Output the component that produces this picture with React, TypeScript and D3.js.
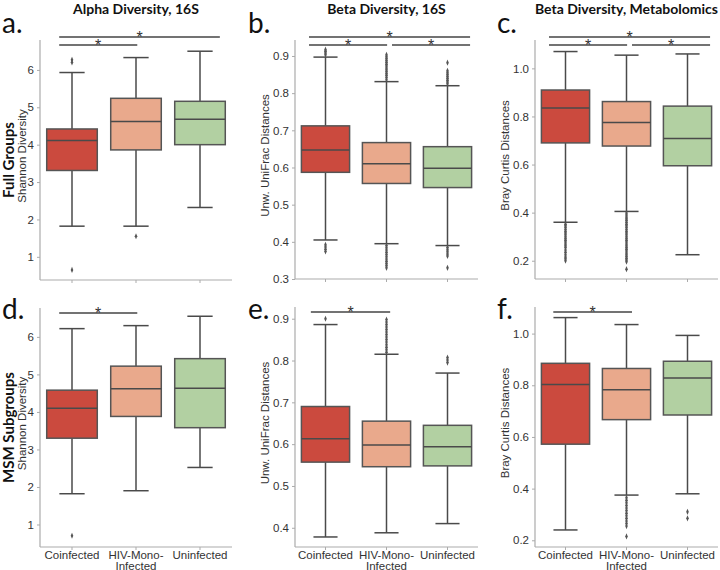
import React, { useEffect, useRef } from "react";
import * as d3 from "d3";

const groups = ["Coinfected", "HIV-Mono-Infected", "Uninfected"];
const groupLabels = [["Coinfected"], ["HIV-Mono-", "Infected"], ["Uninfected"]];
const groupColors = ["#cb4a3e", "#e9a98c", "#b2d0a2"];

const columnTitles = ["Alpha Diversity, 16S", "Beta Diversity, 16S", "Beta Diversity, Metabolomics"];
const rowTitles = ["Full Groups", "MSM Subgroups"];
const panelLetters = ["a.", "b.", "c.", "d.", "e.", "f."];
const yLabels = ["Shannon Diversity", "Unw. UniFrac Distances", "Bray Curtis Distances"];

const shannonTicks = [1, 2, 3, 4, 5, 6];
const unifracTicksFull = [0.3, 0.4, 0.5, 0.6, 0.7, 0.8, 0.9];
const unifracTicksMsm = [0.4, 0.5, 0.6, 0.7, 0.8, 0.9];
const brayTicks = [0.2, 0.4, 0.6, 0.8, 1.0];

// each box: [lower whisker, q1, median, q3, upper whisker]
const alphaFullStats = [
  [1.82, 3.31, 4.11, 4.42, 5.93],
  [1.82, 3.86, 4.62, 5.24, 6.33],
  [2.32, 4.0, 4.68, 5.16, 6.5],
];
const alphaFullOutliers = [[6.27, 6.2, 0.65], [1.55], []];

const unifracFullStats = [
  [0.405, 0.587, 0.647, 0.712, 0.897],
  [0.395, 0.557, 0.61, 0.667, 0.831],
  [0.39, 0.546, 0.598, 0.656, 0.82],
];
const unifracFullOutliers = [
  [0.903, 0.908, 0.913, 0.917, 0.392, 0.386, 0.38, 0.374],
  [0.836, 0.842, 0.848, 0.853, 0.858, 0.863, 0.868, 0.873, 0.878, 0.883, 0.888, 0.893, 0.898, 0.903,
    0.39, 0.384, 0.378, 0.372, 0.366, 0.36, 0.354, 0.348, 0.342, 0.336, 0.33],
  [0.825, 0.83, 0.835, 0.84, 0.845, 0.85, 0.855, 0.86, 0.882, 0.385, 0.379, 0.373, 0.367, 0.362, 0.33],
];

const brayFullStats = [
  [0.36, 0.69, 0.835, 0.91, 1.07],
  [0.405, 0.677, 0.775, 0.862, 1.055],
  [0.225, 0.595, 0.708, 0.843, 1.06],
];
const brayFullOutliers = [
  [0.352, 0.345, 0.338, 0.33, 0.322, 0.315, 0.308, 0.3, 0.292, 0.285, 0.278, 0.27, 0.262, 0.255, 0.245,
    0.235, 0.225, 0.215, 0.208, 0.2],
  [0.398, 0.39, 0.382, 0.375, 0.368, 0.36, 0.352, 0.345, 0.338, 0.33, 0.322, 0.315, 0.308, 0.3, 0.292,
    0.285, 0.278, 0.27, 0.262, 0.255, 0.248, 0.24, 0.232, 0.225, 0.218, 0.21, 0.203, 0.196, 0.165],
  [],
];

const alphaMsmStats = [
  [1.82, 3.3, 4.1, 4.58, 6.22],
  [1.9, 3.88, 4.62, 5.22, 6.3],
  [2.52, 3.58, 4.63, 5.42, 6.55],
];
const alphaMsmOutliers = [[0.7], [], []];

const unifracMsmStats = [
  [0.378, 0.557, 0.613, 0.69, 0.886],
  [0.388, 0.546, 0.598, 0.655, 0.815],
  [0.41, 0.548, 0.594, 0.645, 0.77],
];
const unifracMsmOutliers = [
  [0.9],
  [0.82, 0.826, 0.832, 0.838, 0.844, 0.85, 0.856, 0.862, 0.868, 0.874, 0.88, 0.886, 0.892, 0.898],
  [0.795, 0.801, 0.807],
];

const brayMsmStats = [
  [0.24, 0.572, 0.803, 0.885, 1.062],
  [0.375, 0.667, 0.783, 0.865, 1.035],
  [0.38, 0.685, 0.828, 0.893, 0.993],
];
const brayMsmOutliers = [
  [],
  [0.365, 0.355, 0.345, 0.335, 0.325, 0.315, 0.305, 0.295, 0.285, 0.275, 0.265, 0.255, 0.215],
  [0.31, 0.285],
];

// significance bars: [from group pos, to group pos, level]
const alphaFullSig = [[-0.2, 1.02, 0], [-0.2, 2.31, 1]];
const unifracFullSig = [[-0.27, 1.01, 0], [1.09, 2.37, 0], [-0.27, 2.37, 1]];
const brayFullSig = [[-0.27, 1.01, 0], [1.09, 2.37, 0], [-0.27, 2.37, 1]];
const alphaMsmSig = [[-0.2, 1.02, 0]];
const unifracMsmSig = [[-0.24, 1.06, 0]];
const brayMsmSig = [[-0.2, 1.09, 0]];

const panels = [
  { x0: 40, x1: 232, yTop: 40, yBot: 280, domain: [0.38, 6.8], ticks: shannonTicks, fmt: d3.format("d"), stats: alphaFullStats, out: alphaFullOutliers, sig: alphaFullSig },
  { x0: 295, x1: 478, yTop: 40, yBot: 279, domain: [0.3, 0.943], ticks: unifracTicksFull, fmt: d3.format(".1f"), stats: unifracFullStats, out: unifracFullOutliers, sig: unifracFullSig },
  { x0: 535, x1: 718, yTop: 40, yBot: 279, domain: [0.124, 1.118], ticks: brayTicks, fmt: d3.format(".1f"), stats: brayFullStats, out: brayFullOutliers, sig: brayFullSig },
  { x0: 40, x1: 232, yTop: 308, yBot: 547, domain: [0.4, 6.77], ticks: shannonTicks, fmt: d3.format("d"), stats: alphaMsmStats, out: alphaMsmOutliers, sig: alphaMsmSig },
  { x0: 295, x1: 478, yTop: 307, yBot: 547, domain: [0.354, 0.928], ticks: unifracTicksMsm, fmt: d3.format(".1f"), stats: unifracMsmStats, out: unifracMsmOutliers, sig: unifracMsmSig },
  { x0: 535, x1: 718, yTop: 307, yBot: 547, domain: [0.174, 1.103], ticks: brayTicks, fmt: d3.format(".1f"), stats: brayMsmStats, out: brayMsmOutliers, sig: brayMsmSig },
];

const axisFont = "'Liberation Sans', Arial, sans-serif";
const headFont = "Lato, 'Open Sans', sans-serif";

export default function App() {
  const ref = useRef<SVGSVGElement>(null);

  useEffect(() => {
    const svg = d3.select(ref.current);
    svg.selectAll("*").remove();

    panels.forEach((p, pi) => {
      const col = pi % 3;
      const row = Math.floor(pi / 3);
      const x = d3.scaleBand().domain(groups).range([p.x0, p.x1]);
      const y = d3.scaleLinear().domain(p.domain).range([p.yBot, p.yTop]);
      const bw = x.bandwidth();
      const boxW = bw * 0.79;
      const pos = (c: number) => p.x0 + bw * (c + 0.5);
      const g = svg.append("g");

      // spines
      g.append("line").attr("x1", p.x0).attr("x2", p.x0).attr("y1", p.yTop).attr("y2", p.yBot)
        .attr("stroke", "#ababab").attr("stroke-width", 1.2);
      g.append("line").attr("x1", p.x0).attr("x2", p.x1).attr("y1", p.yBot).attr("y2", p.yBot)
        .attr("stroke", "#ababab").attr("stroke-width", 1.2);

      const ay = g.append("g").attr("transform", `translate(${p.x0},0)`)
        .call(d3.axisLeft(y).tickValues(p.ticks).tickSize(3).tickSizeOuter(0).tickPadding(3).tickFormat(p.fmt as any));
      ay.select(".domain").remove();
      ay.selectAll("line").attr("stroke", "#ababab");
      ay.selectAll("text").attr("fill", "#333").style("font-size", "11.5px").style("font-family", axisFont);

      groups.forEach((gr, i) => {
        const cx = (x(gr) as number) + bw / 2;
        g.append("line").attr("x1", cx).attr("x2", cx).attr("y1", p.yBot).attr("y2", p.yBot + 3)
          .attr("stroke", "#ababab");
        if (row === 1) {
          groupLabels[i].forEach((t, li) => {
            g.append("text").attr("x", cx).attr("y", 559 + li * 10.5).attr("text-anchor", "middle")
              .attr("fill", "#333").style("font-size", "11.5px").style("font-family", axisFont).text(t);
          });
        }
        const [lo, q1, med, q3, hi] = p.stats[i];
        const st = "#4a4a4a";
        g.append("line").attr("x1", cx).attr("x2", cx).attr("y1", y(lo)).attr("y2", y(q1)).attr("stroke", st).attr("stroke-width", 1.5);
        g.append("line").attr("x1", cx).attr("x2", cx).attr("y1", y(q3)).attr("y2", y(hi)).attr("stroke", st).attr("stroke-width", 1.5);
        g.append("line").attr("x1", cx - boxW / 4).attr("x2", cx + boxW / 4).attr("y1", y(lo)).attr("y2", y(lo)).attr("stroke", st).attr("stroke-width", 1.5);
        g.append("line").attr("x1", cx - boxW / 4).attr("x2", cx + boxW / 4).attr("y1", y(hi)).attr("y2", y(hi)).attr("stroke", st).attr("stroke-width", 1.5);
        g.append("rect").attr("x", cx - boxW / 2).attr("width", boxW).attr("y", y(q3)).attr("height", y(q1) - y(q3))
          .attr("fill", groupColors[i]).attr("stroke", "#555").attr("stroke-width", 1.5);
        g.append("line").attr("x1", cx - boxW / 2).attr("x2", cx + boxW / 2).attr("y1", y(med)).attr("y2", y(med)).attr("stroke", st).attr("stroke-width", 1.5);
        const sym = d3.symbol().type(d3.symbolDiamond).size(9);
        g.selectAll(null).data(p.out[i]).enter().append("path")
          .attr("d", sym as any)
          .attr("transform", (v: number) => `translate(${cx},${y(v)}) scale(0.8,1.1)`)
          .attr("fill", "#555");
      });

      // significance bars
      p.sig.forEach(([a, b, lvl]) => {
        const yy = lvl === 0 ? p.yTop + 5 : p.yTop - 3;
        g.append("line").attr("x1", pos(a)).attr("x2", pos(b)).attr("y1", yy).attr("y2", yy)
          .attr("stroke", "#444").attr("stroke-width", 1.3);
        g.append("text").attr("x", (pos(a) + pos(b)) / 2).attr("y", yy + 6).attr("text-anchor", "middle")
          .attr("fill", "#333").style("font-size", "16px").style("font-family", axisFont).text("*");
      });

      // y label
      const ylx = col === 0 ? 26 : p.x0 - 26;
      const yly = (p.yTop + p.yBot) / 2 - 4;
      g.append("text").attr("transform", `translate(${ylx},${yly}) rotate(-90)`).attr("text-anchor", "middle")
        .attr("fill", "#333").style("font-size", "11.5px").style("font-family", axisFont).text(yLabels[col]);

      // panel letter
      const letterX = [2, 248, 497][col];
      g.append("text").attr("x", letterX).attr("y", row === 0 ? 33 : 319)
        .attr("fill", "#111").style("font-size", "28px").style("font-family", headFont).text(panelLetters[pi]);

      if (row === 0) {
        g.append("text").attr("x", (p.x0 + p.x1) / 2).attr("y", 13.5).attr("text-anchor", "middle")
          .attr("fill", "#111").style("font-size", "14px").style("font-weight", "bold").style("font-family", headFont)
          .text(columnTitles[col]);
      }
      if (col === 0) {
        g.append("text").attr("transform", `translate(14,${yly + 4}) rotate(-90)`).attr("text-anchor", "middle")
          .attr("fill", "#111").style("font-size", "15px").style("font-weight", "bold").style("font-family", headFont)
          .text(rowTitles[row]);
      }
    });
  }, []);

  return (
    <svg ref={ref} width={720} height={570} style={{ position: "absolute", left: 0, top: 0, background: "#fff" }} />
  );
}
